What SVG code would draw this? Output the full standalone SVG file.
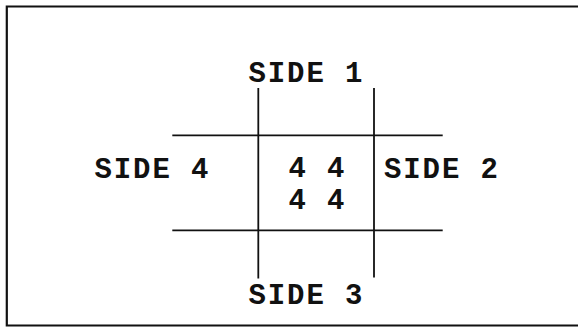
<svg xmlns="http://www.w3.org/2000/svg" width="578" height="327" viewBox="0 0 578 327">
<style>
.t{font-family:"Liberation Mono","Courier New",monospace;font-weight:bold;font-size:29px;letter-spacing:1.9px;fill:#111}
.ln{stroke:#111;stroke-width:1.8;fill:none}
.fr{stroke:#111;stroke-width:2.2;fill:none}
</style>
<rect width="578" height="327" fill="#fff"/>
<g id="frame">
<path class="fr" d="M580 6.5 H6.8 V325.5 H580"/>
</g>
<g id="connectors">
<line class="ln" x1="258.3" y1="88" x2="258.3" y2="278.5"/>
<line class="ln" x1="374" y1="88" x2="374" y2="277.5"/>
<line class="ln" x1="172.3" y1="135.3" x2="442.7" y2="135.3"/>
<line class="ln" x1="172.3" y1="230.3" x2="442.7" y2="230.3"/>
</g>
<g id="side1"><text class="t" x="248.5" y="81.7">SIDE 1</text></g>
<g id="side2"><text class="t" x="384" y="177.7">SIDE 2</text></g>
<g id="side3"><text class="t" x="248.5" y="304.3">SIDE 3</text></g>
<g id="side4"><text class="t" x="94.5" y="177.7">SIDE 4</text></g>
<g id="center">
<text class="t" x="288.5" y="177.2">4 4</text>
<text class="t" x="288.5" y="209.3">4 4</text>
</g>
</svg>
